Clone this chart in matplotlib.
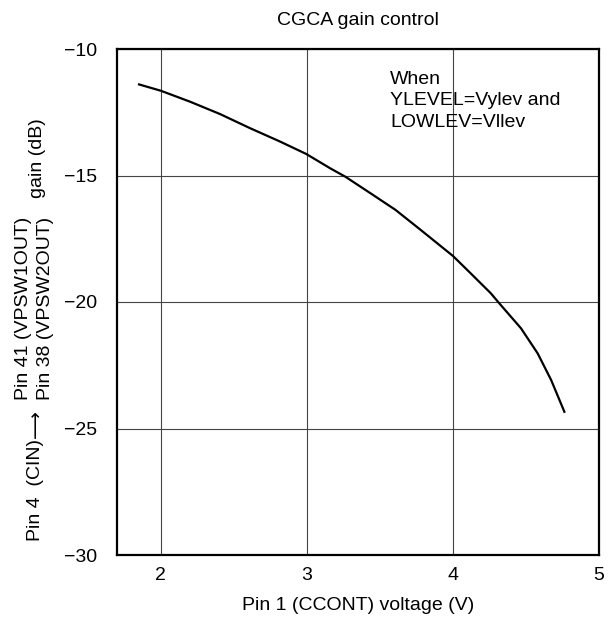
import matplotlib
matplotlib.use("Agg")
import matplotlib.pyplot as plt

plt.rcParams['font.family'] = ['Liberation Sans', 'DejaVu Sans']
plt.rcParams['font.size'] = 14

# data
voltage = [1.851, 2.0, 2.199, 2.405, 2.611, 2.817, 2.996, 3.161, 3.264, 3.435, 3.607,
           3.779, 4.0, 4.122, 4.260, 4.317, 4.466, 4.580, 4.672, 4.763]
gain_db = [-11.40, -11.65, -12.08, -12.57, -13.13, -13.66, -14.15, -14.72, -15.05, -15.70, -16.36,
           -17.15, -18.18, -18.87, -19.66, -20.05, -21.04, -22.03, -23.08, -24.34]

xticks = [2, 3, 4, 5]
yticks = [-10, -15, -20, -25, -30]

W, H = 614, 621
fig = plt.figure(figsize=(W / 100, H / 100), dpi=100)
ax = fig.add_axes([117 / W, 1 - 555 / H, (599 - 117) / W, (555 - 49) / H])

ax.plot(voltage, gain_db, color='black', linewidth=1.6, zorder=3,
        solid_joinstyle='round')

ax.set_xlim(1.7, 5.0)
ax.set_ylim(-30, -10)
ax.set_xticks(xticks)
ax.set_yticks(yticks)
ax.set_xticklabels([str(t) for t in xticks])
ax.set_yticklabels(['\u2212' + str(-t) for t in yticks])
ax.tick_params(axis='both', length=0, labelsize=14)
ax.tick_params(axis='x', pad=9)
ax.tick_params(axis='y', pad=14)
ax.grid(True, color='#444444', linewidth=0.8)
for s in ax.spines.values():
    s.set_linewidth(1.6)
    s.set_color('black')

ax.set_xlabel('Pin 1 (CCONT) voltage (V)', fontsize=14, labelpad=9)
ax.set_title('CGCA gain control', fontsize=14, pad=17)

ax.text(3.57, -10.85, 'When\nYLEVEL=Vylev and\nLOWLEV=Vllev', fontsize=14,
        ha='left', va='top', linespacing=1.35)

# composite y label
fig.text(35 / W, 1 - 490 / H, 'Pin 4  (CIN)', rotation=90, ha='center', va='center', fontsize=14)
fig.text(36 / W, 1 - 424 / H, '\u27f6', rotation=90, ha='center', va='center', fontsize=14,
         family='DejaVu Sans')
fig.text(24 / W, 1 - 308 / H, 'Pin 41 (VPSW1OUT)', rotation=90, ha='center', va='center', fontsize=14)
fig.text(46 / W, 1 - 308 / H, 'Pin 38 (VPSW2OUT)', rotation=90, ha='center', va='center', fontsize=14)
fig.text(37 / W, 1 - 158 / H, 'gain (dB)', rotation=90, ha='center', va='center', fontsize=14)

fig.savefig('out.png', dpi=100)
